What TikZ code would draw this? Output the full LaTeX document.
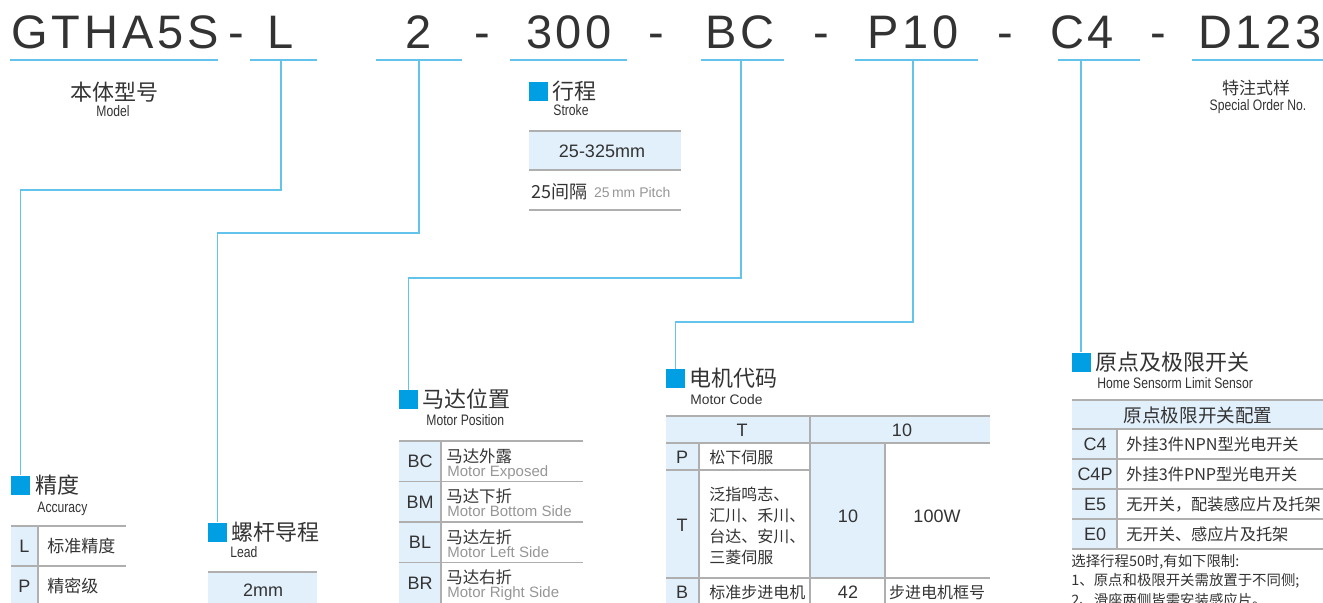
\documentclass[tikz,border=0pt]{standalone}
\usepackage{fontspec}
\setmainfont{Liberation Sans}
\newfontfamily\cjk{Noto Sans CJK SC}
\newfontfamily\hdrfont[LetterSpace=8]{Liberation Sans}
\newfontfamily\narrowfont[FakeStretch=0.8]{Liberation Sans}
\usepackage{xcolor}
\usepackage{tikz}
\usetikzlibrary{positioning}

\definecolor{ink}{RGB}{51,51,51}
\definecolor{lineblue}{RGB}{100,195,235}
\definecolor{keyblue}{RGB}{0,158,226}
\definecolor{cellblue}{RGB}{226,240,251}
\definecolor{rulegrey}{RGB}{175,175,175}
\definecolor{subgrey}{RGB}{150,150,150}

\begin{document}
\begin{tikzpicture}[x=0.5pt, y=-0.5pt]

  \useasboundingbox (0,0) rectangle (1323,602);
  \clip (0,0) rectangle (1323,602);

  \tikzset{
    uline/.style={draw=lineblue, line width=0.8pt},
    conn/.style={draw=lineblue, line width=0.75pt},
    keysq/.style={rectangle, fill=keyblue, minimum size=9.5pt, inner sep=0pt},
    hdr/.style={font=\hdrfont\fontsize{23.5}{26}\selectfont, text=ink, anchor=base, inner sep=0pt},
    ttl/.style={font=\cjk\fontsize{11}{13}\selectfont, text=ink, inner sep=0pt},
    subt/.style={font=\narrowfont\fontsize{7.6}{9}\selectfont, text=ink, anchor=base west, inner sep=0pt},
    rulex/.style={draw=rulegrey, line width=0.8pt},
    codetxt/.style={font=\fontsize{9}{10}\selectfont, text=ink, inner sep=0pt},
    cjktxt/.style={font=\cjk\fontsize{8.5}{10}\selectfont, text=ink, inner sep=0pt, anchor=west},
    greytxt/.style={font=\fontsize{7.5}{8}\selectfont, text=subgrey, inner sep=0pt, anchor=base west}
  }

  %% Model code
  \node[hdr] (hModel) at (115,48) {GTHA5S};
  \node[hdr] (hD1)    at (236,48) {-};
  \node[hdr] (hAcc)   at (281,48) {L};
  \node[hdr] (hLead)  at (419,48) {2};
  \node[hdr] (hD2)    at (482,48) {-};
  \node[hdr] (hStroke) at (569,48) {300};
  \node[hdr] (hD3)    at (656,48) {-};
  \node[hdr] (hMpos)  at (740,48) {BC};
  \node[hdr] (hD4)    at (821,48) {-};
  \node[hdr] (hMcode) at (913,48) {P10};
  \node[hdr] (hD5)    at (1005,48) {-};
  \node[hdr] (hHome)  at (1082,48) {C4};
  \node[hdr] (hD6)    at (1158,48) {-};
  \node[hdr] (hSpec)  at (1260,48) {D123};

  %% Underlines
  \draw[uline] (10,60) -- (218,60);
  \draw[uline] (250,60) -- (317,60);
  \draw[uline] (376,60) -- (462,60);
  \draw[uline] (510,60) -- (627,60);
  \draw[uline] (701,60) -- (784,60);
  \draw[uline] (855,60) -- (978,60);
  \draw[uline] (1058,60) -- (1140,60);
  \draw[uline] (1192,60) -- (1323,60);

  \coordinate (uAcc)   at (281,60);
  \coordinate (uLead)  at (419,60);
  \coordinate (uMpos)  at (741,60);
  \coordinate (uMcode) at (913,60);
  \coordinate (uHome)  at (1081,60);

  %% Section markers
  \node[keysq] (sqAcc)    at (20.5,485) {};
  \node[keysq] (sqLead)   at (217.5,532) {};
  \node[keysq] (sqStroke) at (538,91) {};
  \node[keysq] (sqMpos)   at (408.5,399.5) {};
  \node[keysq] (sqMcode)  at (675.5,378.5) {};
  \node[keysq] (sqHome)   at (1081,362) {};

  %% Connectors
  \draw[conn] (uAcc) -- ++(0,130) -| (sqAcc.north);
  \draw[conn] (uLead) -- ++(0,173) -| (sqLead.north);
  \draw[conn] (uMpos) -- ++(0,218) -| (sqMpos.north);
  \draw[conn] (uMcode) -- ++(0,262) -| (sqMcode.north);
  \draw[conn] (uHome) -- (sqHome.north);

  %% Model / special order
  \node[ttl] (tModel) at (114,92) {本体型号};
  \node[subt, anchor=base] (eModel) at (113,116) {Model};
  \node[ttl, font=\cjk\fontsize{8.5}{10}\selectfont] (tSpec) at (1256,88) {特注式样};
  \node[subt, anchor=base] (eSpec) at (1258,110) {Special Order No.};

  %% Stroke
  \node[ttl, right=2pt of sqStroke] (tStroke) {行程};
  \node[subt] (eStroke) at (553,115) {Stroke};
  \fill[cellblue] (529,131) rectangle (681,170);
  \draw[rulex] (529,131) -- (681,131);
  \draw[rulex] (529,170) -- (681,170);
  \draw[rulex] (529,210) -- (681,210);
  \node[codetxt] (sRange) at (602,151) {25-325mm};
  \node[cjktxt, font=\cjk\fontsize{9}{10}\selectfont] (sPitch) at (531,192) {25间隔};
  \node[greytxt, font=\fontsize{7}{8}\selectfont, anchor=west, right=3pt of sPitch] (sPitchEn) {25\,mm Pitch};

  %% Accuracy
  \node[ttl, right=2.5pt of sqAcc] (tAcc) {精度};
  \node[subt] (eAcc) at (37,512) {Accuracy};
  \fill[cellblue] (11,526) rectangle (38,610);
  \draw[rulex] (11,526) -- (126,526);
  \draw[rulex] (11,566) -- (126,566);
  \draw[rulex] (38,526) -- (38,610);
  \node[codetxt] (aL) at (24.5,546) {L};
  \node[cjktxt] (aLtx) at (47,546) {标准精度};
  \node[codetxt] (aP) at (24.5,586) {P};
  \node[cjktxt] (aPtx) at (47,586) {精密级};

  %% Lead
  \node[ttl, right=2pt of sqLead] (tLead) {螺杆导程};
  \node[subt] (eLead) at (230,557) {Lead};
  \fill[cellblue] (208,572) rectangle (317,610);
  \draw[rulex] (208,572) -- (317,572);
  \node[codetxt] (l2) at (263,590) {2mm};

  %% Motor position
  \node[ttl, right=2pt of sqMpos] (tMpos) {马达位置};
  \node[subt] (eMpos) at (426,425) {Motor Position};
  \fill[cellblue] (399,441) rectangle (441,610);
  \draw[rulex] (399,441) -- (583,441);
  \foreach \ry in {481.5,522,562.5}{
    \draw[rulex] (399,\ry) -- (583,\ry);
  }
  \draw[rulex] (441,441) -- (441,610);
  \foreach \code/\cn/\en [count=\i from 0] in
    {BC/马达外露/Motor Exposed, BM/马达下折/Motor Bottom Side,
     BL/马达左折/Motor Left Side, BR/马达右折/Motor Right Side}{
    \pgfmathsetmacro\rt{441+40.5*\i}
    \node[codetxt] (mp\i) at (420,\rt+20.5) {\code};
    \node[cjktxt, font=\cjk\fontsize{8.2}{10}\selectfont] (mpc\i) at (446,\rt+15) {\cn};
    \node[greytxt] (mpe\i) at (447,\rt+35) {\en};
  }

  %% Motor code
  \node[ttl, right=2pt of sqMcode] (tMcode) {电机代码};
  \node[subt, font=\fontsize{6.9}{8}\selectfont] (eMcode) at (690,404) {Motor Code};
  \fill[cellblue] (666,416) rectangle (990,443);
  \fill[cellblue] (666,443) rectangle (699,610);
  \fill[cellblue] (810,443) rectangle (885,578);
  \draw[rulex] (666,416) -- (990,416);
  \draw[rulex] (666,443) -- (990,443);
  \draw[rulex] (666,470) -- (810,470);
  \draw[rulex] (666,578) -- (990,578);
  \draw[rulex] (810,416) -- (810,610);
  \draw[rulex] (699,443) -- (699,610);
  \draw[rulex] (885,443) -- (885,610);
  \node[codetxt] (mcT) at (742,430) {T};
  \node[codetxt] (mc10) at (902,430) {10};
  \node[codetxt] (mcP) at (682,457) {P};
  \node[cjktxt, font=\cjk\fontsize{8}{10}\selectfont] (mcPtx) at (709,457) {松下伺服};
  \node[codetxt] (mcT2) at (682,525) {T};
  \node[cjktxt, align=left, font=\cjk\fontsize{8}{10.5}\selectfont] (mcTtx) at (709,526)
    {泛指鸣志、\\汇川、禾川、\\台达、安川、\\三菱伺服};
  \node[codetxt] (mcS) at (848,516) {10};
  \node[codetxt] (mcW) at (937,516) {100W};
  \node[codetxt] (mcB) at (682,592) {B};
  \node[cjktxt, font=\cjk\fontsize{8}{10}\selectfont] (mcBtx) at (709,592) {标准步进电机};
  \node[codetxt] (mcF) at (848,592) {42};
  \node[cjktxt, anchor=center, font=\cjk\fontsize{8}{10}\selectfont] (mcFtx) at (937,592) {步进电机框号};

  %% Home / limit sensor
  \node[ttl, right=2pt of sqHome] (tHome) {原点及极限开关};
  \node[subt] (eHome) at (1097,388) {Home Sensorm Limit Sensor};
  \fill[cellblue] (1072,400) rectangle (1323,429);
  \fill[cellblue] (1072,429) rectangle (1117,549);
  \foreach \ry in {400,429,459,489,519,549}{
    \draw[rulex] (1072,\ry) -- (1323,\ry);
  }
  \draw[rulex] (1117,429) -- (1117,549);
  \node[cjktxt, anchor=center, font=\cjk\fontsize{9.3}{11}\selectfont] (hsHead) at (1198,415) {原点极限开关配置};
  \foreach \code/\cn [count=\i from 0] in
    {C4/外挂3件NPN型光电开关, C4P/外挂3件PNP型光电开关,
     E5/无开关，配装感应片及托架, E0/无开关、感应片及托架}{
    \node[codetxt] (hs\i) at (1095,444+30*\i) {\code};
    \node[cjktxt, font=\cjk\fontsize{8.1}{10}\selectfont] (hst\i) at (1126,444+30*\i) {\cn};
  }
  \node[cjktxt, font=\cjk\fontsize{7.2}{9}\selectfont] (note1) at (1071,562) {选择行程50时,有如下限制:};
  \node[cjktxt, font=\cjk\fontsize{7.2}{9}\selectfont] (note2) at (1071,581) {1、原点和极限开关需放置于不同侧;};
  \node[cjktxt, font=\cjk\fontsize{7.2}{9}\selectfont] (note3) at (1071,600) {2、滑座两侧皆需安装感应片。};

\end{tikzpicture}
\end{document}
